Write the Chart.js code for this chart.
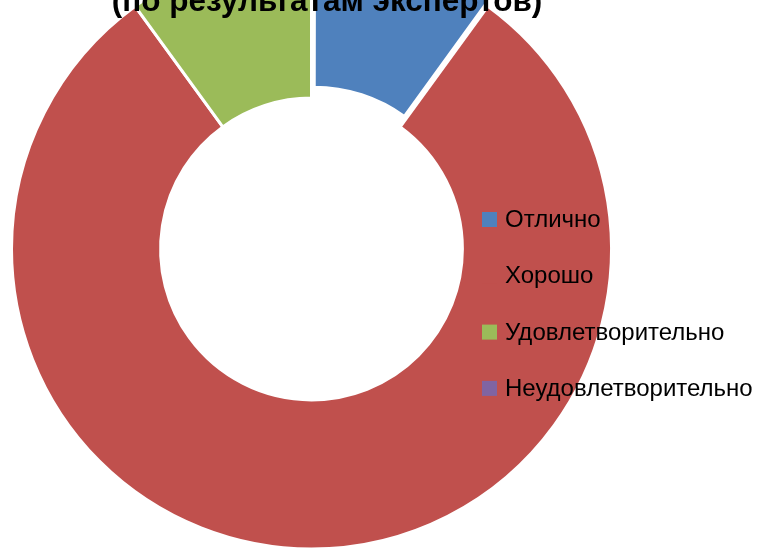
<!DOCTYPE html>
<html><head><meta charset="utf-8">
<script src="https://cdn.jsdelivr.net/npm/chart.js@4/dist/chart.umd.min.js"></script>
<style>html,body{margin:0;padding:0;background:#fff;overflow:hidden;}</style>
</head><body>
<canvas id="c" width="760" height="551" style="display:block;width:760px;height:551px"></canvas>
<script>
const categories = ['Отлично', 'Хорошо', 'Удовлетворительно', 'Неудовлетворительно'];
const values = [1, 8, 1, 0];
const colors = ['#4F81BD', '#C0504D', '#9BBB59', '#8064A2'];
const offsets = [32, 0, 0, 0];
const titleText = '(по результатам экспертов)';

const overlayPlugin = {
  id: 'overlay',
  afterDraw(chart) {
    const ctx = chart.ctx;
    ctx.save();
    // title (drawn above the doughnut, as in the reference)
    ctx.fillStyle = '#000';
    ctx.font = 'bold 31.5px "Liberation Sans", Arial, sans-serif';
    ctx.textAlign = 'center';
    ctx.textBaseline = 'alphabetic';
    ctx.fillText(titleText, 327, 11);
    // legend
    const labels = chart.data.labels;
    const bg = chart.data.datasets[0].backgroundColor;
    ctx.font = '24px "Liberation Sans", Arial, sans-serif';
    ctx.textAlign = 'left';
    ctx.textBaseline = 'middle';
    for (let i = 0; i < labels.length; i++) {
      const y = 219.5 + i * 56.3;
      ctx.fillStyle = bg[i];
      ctx.fillRect(482, y - 7.5, 15, 15);
      ctx.fillStyle = '#000';
      ctx.fillText(labels[i], 505, y + 1);
    }
    ctx.restore();
  }
};

new Chart(document.getElementById('c'), {
  type: 'doughnut',
  data: {
    labels: categories,
    datasets: [{
      data: values,
      backgroundColor: colors,
      borderColor: '#ffffff',
      borderWidth: 3,
      offset: offsets,
      hoverOffset: 0,
      clip: false
    }]
  },
  options: {
    responsive: false,
    animation: false,
    devicePixelRatio: 1,
    radius: 300,
    cutout: '50.3%',
    layout: { padding: { left: 0, right: 137, top: 0, bottom: 53 } },
    plugins: {
      legend: { display: false },
      title: { display: false },
      tooltip: { enabled: false }
    },
    events: []
  },
  plugins: [overlayPlugin]
});
</script>
</body></html>
